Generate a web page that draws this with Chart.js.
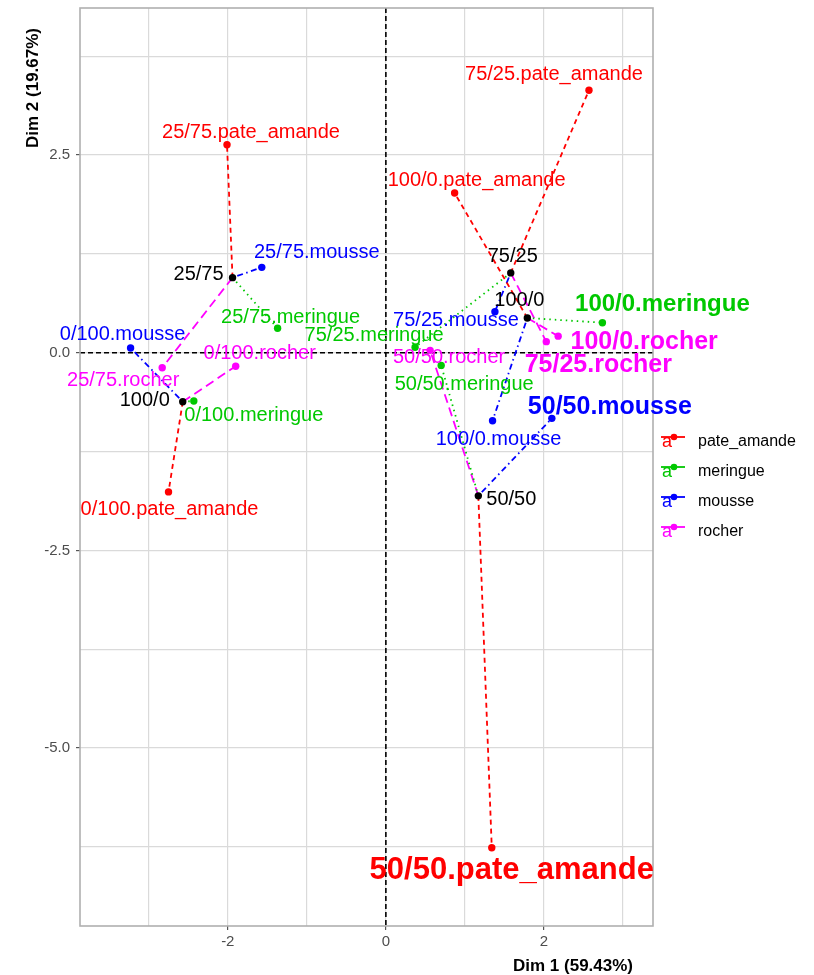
<!DOCTYPE html>
<html>
<head>
<meta charset="utf-8">
<script src="https://cdn.jsdelivr.net/npm/chart.js@4.4.0/dist/chart.umd.min.js"></script>
<style>
  html, body { margin: 0; padding: 0; background: #ffffff; }
  canvas { display: block; }
</style>
</head>
<body>
<canvas id="mfa" width="814" height="975"></canvas>
<script>
// MFA partial individuals: mean point of each mixture and its partial point for each product group
const individuals = ['100/0', '75/25', '50/50', '25/75', '0/100'];
const meanLabels  = ['100/0', '75/25', '50/50', '25/75', '100/0'];
const meanDim1 = [1.79, 1.58, 1.17, -1.94, -2.57];
const meanDim2 = [0.44, 1.01, -1.81, 0.95, -0.62];

const groups = ['pate_amande', 'meringue', 'mousse', 'rocher'];
const pateDim1     = [0.87, 2.57, 1.34, -2.01, -2.75];
const pateDim2     = [2.02, 3.32, -6.26, 2.63, -1.76];
const meringueDim1 = [2.74, 0.37, 0.70, -1.37, -2.43];
const meringueDim2 = [0.38, 0.07, -0.16, 0.31, -0.61];
const mousseDim1   = [1.35, 1.38, 2.10, -1.57, -3.23];
const mousseDim2   = [-0.86, 0.52, -0.83, 1.08, 0.06];
const rocherDim1   = [2.18, 2.03, 0.56, -2.83, -1.90];
const rocherDim2   = [0.21, 0.14, 0.03, -0.19, -0.17];

const xTickLabels = [-2, 0, 2];
const yTickLabels = [-5, -2.5, 0, 2.5];
const xLabel = 'Dim 1 (59.43%)';
const yLabel = 'Dim 2 (19.67%)';

const partialDim1 = [pateDim1, meringueDim1, mousseDim1, rocherDim1];
const partialDim2 = [pateDim2, meringueDim2, mousseDim2, rocherDim2];

// styling
const groupColors = ['#FF0000', '#00C800', '#0000FF', '#FF00FF'];
const groupDashes = [[5, 4], [1.5, 4], [1.5, 3.5, 6, 3.5], [9, 5]];
const FONT = "'Liberation Sans', Arial, sans-serif";
const largeLabels = {
  '100/0.meringue': 24, '100/0.rocher': 25, '75/25.rocher': 25,
  '50/50.mousse': 25, '50/50.pate_amande': 31
};
// text centre offset from its point, px
const labelOffsets = {
  '25/75.pate_amande': [24, -12], '75/25.pate_amande': [-35, -16], '100/0.pate_amande': [22, -13],
  '0/100.pate_amande': [1, 18], '50/50.pate_amande': [20, 23],
  '100/0.meringue': [60, -18], '75/25.meringue': [-41, -12], '50/50.meringue': [23, 19],
  '25/75.meringue': [13, -11], '0/100.meringue': [60, 15],
  '100/0.mousse': [6, 19], '75/25.mousse': [-39, 9], '50/50.mousse': [58, -11],
  '25/75.mousse': [55, -15], '0/100.mousse': [-8, -14],
  '100/0.rocher': [86, 6], '75/25.rocher': [52, 23], '50/50.rocher': [19, 7],
  '25/75.rocher': [-39, 13], '0/100.rocher': [24, -13]
};
const meanOffsets = [[-8, -17], [2, -16], [33, 4], [-34, -3], [-38, -1]];

// one dataset per group: segments mean -> partial, broken by gaps
const groupDatasets = groups.map((g, gi) => {
  const data = [];
  individuals.forEach((ind, i) => {
    data.push({ x: meanDim1[i], y: meanDim2[i] });
    data.push({ x: partialDim1[gi][i], y: partialDim2[gi][i] });
    data.push({ x: meanDim1[i], y: null });
  });
  return {
    label: g,
    data,
    showLine: true,
    spanGaps: false,
    borderColor: groupColors[gi],
    backgroundColor: groupColors[gi],
    borderWidth: 1.8,
    borderDash: groupDashes[gi],
    pointRadius: ctx => (ctx.index % 3 === 1 ? 3.7 : 0),
    pointHoverRadius: 0,
    pointBorderWidth: 0,
    order: 1
  };
});

const meanDataset = {
  label: 'individuals',
  data: individuals.map((ind, i) => ({ x: meanDim1[i], y: meanDim2[i] })),
  showLine: false,
  pointRadius: 3.7,
  pointBorderWidth: 0,
  backgroundColor: '#000000',
  borderColor: '#000000',
  order: 0
};

const panelPlugin = {
  id: 'panel',
  beforeDatasetsDraw(chart) {
    const { ctx, chartArea: a, scales } = chart;
    const x0 = scales.x.getPixelForValue(0);
    const y0 = scales.y.getPixelForValue(0);
    ctx.save();
    ctx.strokeStyle = '#000000';
    ctx.lineWidth = 1.6;
    ctx.setLineDash([5, 3]);
    ctx.beginPath();
    ctx.moveTo(x0, a.top); ctx.lineTo(x0, a.bottom);
    ctx.moveTo(a.left, y0); ctx.lineTo(a.right, y0);
    ctx.stroke();
    ctx.restore();
  },
  afterDraw(chart) {
    const { ctx, chartArea: a, scales } = chart;
    ctx.save();
    // panel frame
    ctx.strokeStyle = '#B0B0B0';
    ctx.lineWidth = 1.6;
    ctx.strokeRect(a.left, a.top, a.right - a.left, a.bottom - a.top);

    // point labels
    ctx.textAlign = 'center';
    ctx.textBaseline = 'middle';
    groups.forEach((g, gi) => {
      individuals.forEach((ind, i) => {
        const name = ind + '.' + g;
        const px = scales.x.getPixelForValue(partialDim1[gi][i]);
        const py = scales.y.getPixelForValue(partialDim2[gi][i]);
        const off = labelOffsets[name] || [0, -14];
        const big = largeLabels[name];
        ctx.font = big ? 'bold ' + big + 'px ' + FONT : '20px ' + FONT;
        ctx.fillStyle = groupColors[gi];
        ctx.fillText(name, px + off[0], py + off[1]);
      });
    });
    ctx.font = '20px ' + FONT;
    ctx.fillStyle = '#000000';
    individuals.forEach((ind, i) => {
      const px = scales.x.getPixelForValue(meanDim1[i]);
      const py = scales.y.getPixelForValue(meanDim2[i]);
      ctx.fillText(meanLabels[i], px + meanOffsets[i][0], py + meanOffsets[i][1]);
    });

    // axis titles
    ctx.fillStyle = '#000000';
    ctx.font = 'bold 17px ' + FONT;
    ctx.textAlign = 'right';
    ctx.textBaseline = 'middle';
    ctx.fillText(xLabel, 633, 966);
    ctx.save();
    ctx.translate(33, 28);
    ctx.rotate(-Math.PI / 2);
    ctx.textAlign = 'right';
    ctx.fillText(yLabel, 0, 0);
    ctx.restore();

    // legend
    groups.forEach((g, gi) => {
      const cy = 441 + gi * 30;
      ctx.strokeStyle = groupColors[gi];
      ctx.fillStyle = groupColors[gi];
      ctx.lineWidth = 1.8;
      ctx.setLineDash([]);
      ctx.beginPath();
      ctx.moveTo(661, cy - 4); ctx.lineTo(685, cy - 4);
      ctx.stroke();
      ctx.beginPath();
      ctx.arc(674, cy - 4, 3.3, 0, Math.PI * 2);
      ctx.fill();
      ctx.font = '18px ' + FONT;
      ctx.textAlign = 'center';
      ctx.textBaseline = 'middle';
      ctx.fillText('a', 667, cy + 1);
      ctx.fillStyle = '#000000';
      ctx.font = '16px ' + FONT;
      ctx.textAlign = 'left';
      ctx.fillText(g, 698, cy + 1);
    });
    ctx.restore();
  }
};

new Chart(document.getElementById('mfa'), {
  type: 'scatter',
  data: { datasets: [meanDataset, ...groupDatasets] },
  options: {
    responsive: false,
    animation: false,
    devicePixelRatio: 1,
    layout: { padding: { left: 0, right: 161, top: 8, bottom: 0 } },
    plugins: { legend: { display: false }, tooltip: { enabled: false } },
    scales: {
      x: {
        type: 'linear',
        min: -3.87, max: 3.38,
        afterFit(scale) {
          scale.height = 49;
          scale.paddingLeft = 0; scale.paddingRight = 0;
        },
        afterBuildTicks(scale) {
          scale.ticks = [-3, -2, -1, 0, 1, 2, 3].map(v => ({ value: v }));
        },
        border: { display: false },
        grid: {
          color: '#DADADA', lineWidth: 1.2, tickLength: 4,
          tickColor: ctx => (xTickLabels.includes(ctx.tick && ctx.tick.value) ? '#555555' : 'rgba(0,0,0,0)')
        },
        ticks: {
          padding: 3,
          color: '#4D4D4D',
          font: { family: FONT, size: 15 },
          maxRotation: 0,
          autoSkip: false,
          callback: v => (xTickLabels.includes(v) ? String(v) : '')
        }
      },
      y: {
        type: 'linear',
        min: -7.25, max: 4.36,
        afterFit(scale) {
          scale.width = 80;
          scale.paddingTop = 0; scale.paddingBottom = 0;
        },
        afterBuildTicks(scale) {
          scale.ticks = [-6.25, -5, -3.75, -2.5, -1.25, 0, 1.25, 2.5, 3.75].map(v => ({ value: v }));
        },
        border: { display: false },
        grid: {
          color: '#DADADA', lineWidth: 1.2, tickLength: 4,
          tickColor: ctx => (yTickLabels.includes(ctx.tick && ctx.tick.value) ? '#555555' : 'rgba(0,0,0,0)')
        },
        ticks: {
          padding: 6,
          color: '#4D4D4D',
          font: { family: FONT, size: 15 },
          autoSkip: false,
          callback: v => (yTickLabels.includes(v) ? v.toFixed(1) : '')
        }
      }
    }
  },
  plugins: [panelPlugin]
});
</script>
</body>
</html>
